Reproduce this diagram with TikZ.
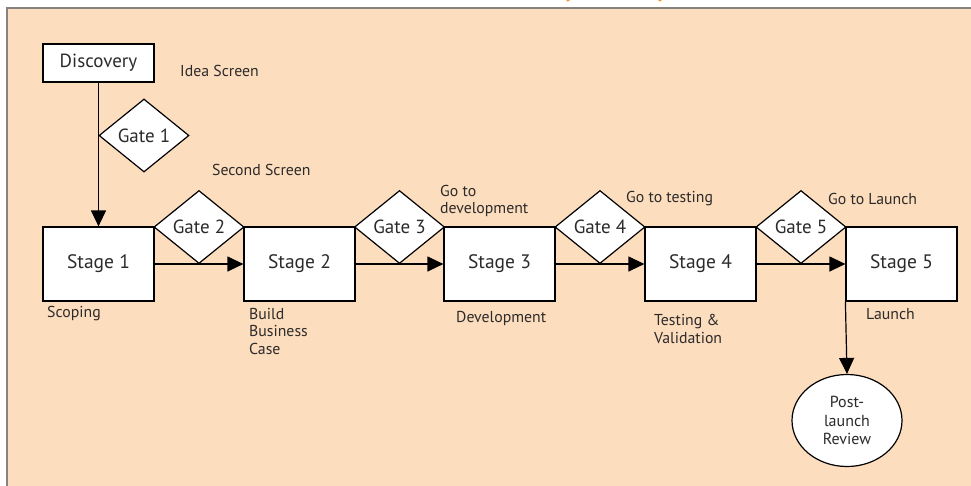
\documentclass[tikz,border=0pt]{standalone}
\usepackage{fontspec}
\setmainfont{PT Sans}
\usetikzlibrary{arrows.meta,shapes.geometric}
\definecolor{panelfill}{RGB}{252,221,190}
\definecolor{panelrule}{RGB}{135,130,126}
\definecolor{ink}{RGB}{45,42,42}
\definecolor{headorange}{RGB}{245,145,40}
\begin{document}
\begin{tikzpicture}[x=1pt,y=-1pt,
  shapeline/.style={draw=black,line width=1.2pt,fill=white,inner sep=0pt,text=ink},
  stagebox/.style={shapeline,rectangle,minimum width=111pt,minimum height=74pt,
    font=\fontsize{19.5}{22}\selectfont},
  gatebox/.style={shapeline,diamond,aspect=1.23,minimum width=90pt,minimum height=73pt,
    font=\fontsize{19}{21}\selectfont},
  startbox/.style={shapeline,rectangle,minimum width=111pt,minimum height=38pt,
    font=\fontsize{19}{21}\selectfont},
  reviewbox/.style={shapeline,ellipse,minimum width=110pt,minimum height=92pt,
    align=center,font=\fontsize{16}{18.5}\selectfont},
  note/.style={anchor=west,inner sep=0pt,text=ink,align=left,
    font=\fontsize{15.8}{17.5}\selectfont},
  flow/.style={line width=1.2pt,-{Triangle[length=16pt,width=15pt]}}
]
\useasboundingbox (0,0) rectangle (971,485);

% background panel, running past the right and bottom edges
\fill[white] (0,0) rectangle (971,485);
\filldraw[fill=panelfill,draw=panelrule,line width=2pt] (6.5,7.5) rectangle (990,505);

% lower ends of the title's brackets
\node[text=headorange,font=\bfseries\fontsize{26}{28}\selectfont,anchor=base] (brl) at (566,-4) {(};
\node[text=headorange,font=\bfseries\fontsize{26}{28}\selectfont,anchor=base] (brr) at (662,-4) {)};

% discovery and the screens
\node[startbox] (disc) at (98.5,63) {Discovery};
\node[note] (idea) at (180,71) {Idea Screen};
\node[note] (second) at (212,170) {Second Screen};

% stages
\node[stagebox] (s1) at (98.5,264) {Stage 1};
\node[stagebox] (s2) at (299.5,264) {Stage 2};
\node[stagebox] (s3) at (499.5,264) {Stage 3};
\node[stagebox] (s4) at (700.5,264) {Stage 4};
\node[stagebox] (s5) at (901.5,264) {Stage 5};

% connectors (drawn before the gates so the gates sit on top)
\draw[flow] (disc.south) -- (s1.north);
\draw[flow] ([xshift=-2pt]s1.east) -- (s2.west);
\draw[flow] ([xshift=-2pt]s2.east) -- (s3.west);
\draw[flow] ([xshift=-2pt]s3.east) -- (s4.west);
\draw[flow] ([xshift=-2pt]s4.east) -- (s5.west);

% gates
\node[gatebox] (g1) at (144,135.5) {Gate 1};
\node[gatebox] (g2) at (199,227) {Gate 2};
\node[gatebox] (g3) at (399.5,227) {Gate 3};
\node[gatebox] (g4) at (600,227) {Gate 4};
\node[gatebox] (g5) at (801,227) {Gate 5};

% post-launch review
\node[reviewbox] (rev) at (847,420.5) {Post-\\launch\\Review};
\draw[flow] (s5.south west) -- (rev.north);

% stage and gate captions
\node[note] (scoping) at (47,314) {Scoping};
\node[note] (build) at (249,331) {Build\\Business\\Case};
\node[note] (godev) at (440,201) {Go to\\development};
\node[note] (devel) at (456,318) {Development};
\node[note] (gotest) at (626,199) {Go to testing};
\node[note] (testing) at (654,329) {Testing \&\\Validation};
\node[note] (golaunch) at (828,199) {Go to Launch};
\node[note] (launch) at (866,314) {Launch};
\end{tikzpicture}
\end{document}
